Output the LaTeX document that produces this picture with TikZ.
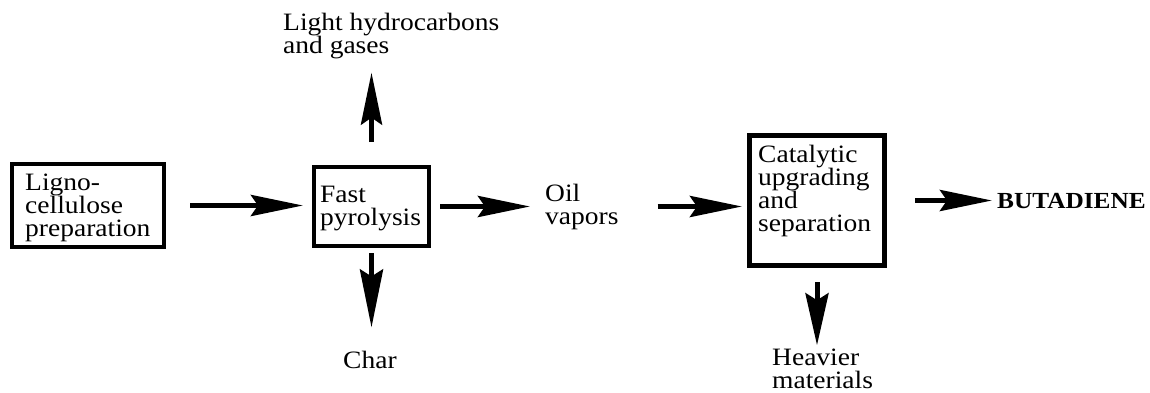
\documentclass[tikz,border=0pt]{standalone}
\usepackage{fontspec}
\setmainfont{Liberation Serif}[FakeStretch=1.1]
\usetikzlibrary{arrows.meta}
\tikzset{
  box/.style={draw, line width=4pt, inner sep=0pt},
  lbl/.style={inner sep=0pt, align=left, font=\fontsize{25}{23}\selectfont},
  flow/.style={line width=5pt, -{Stealth[length=52pt, width=21pt, inset=7pt]}},
}
\begin{document}
\begin{tikzpicture}[x=1pt, y=-1pt]
\useasboundingbox[fill=white] (0,0) rectangle (1150,393);
% boxes (text nodes are anchored at the baseline of their last line)
\node[box, minimum width=152pt, minimum height=83pt] (b1) at (88,205.5) {};
\node[lbl, anchor=base west] (b1t) at (25,236) {Ligno-\\cellulose\\preparation};
\node[box, minimum width=115pt, minimum height=79pt] (b2) at (371.5,206.5) {};
\node[lbl, anchor=base west] (b2t) at (320,225) {Fast\\pyrolysis};
\node[box, line width=5pt, minimum width=135pt, minimum height=130pt] (b3) at (817,200.5) {};
\node[lbl, anchor=base west] (b3t) at (758,231) {Catalytic\\upgrading\\and\\separation};
% labels
\node[lbl, anchor=base west] (lh) at (283,54) {Light hydrocarbons\\and gases};
\node[lbl, anchor=base west] (ch) at (343,368) {Char};
\node[lbl, anchor=base west] (oil) at (545,224) {Oil\\vapors};
\node[lbl, anchor=base west] (hv) at (772,388) {Heavier\\materials};
\node[lbl, anchor=base west, font=\fontsize{23}{23}\selectfont\bfseries] (bd) at (997,208) {BUTADIENE};
% connectors
\draw[flow, shorten <=24pt, shorten >=9pt] (b1.east) -- (b1.east -| b2.west);
\draw[flow, shorten <=23pt, shorten >=13pt] (b2.north) -- (b2.north |- lh.south);
\draw[flow, -{Stealth[length=58pt, width=23pt, inset=7pt]}, shorten <=5pt, shorten >=23pt] (b2.south) -- (b2.south |- ch.north);
\draw[flow, shorten <=9pt, shorten >=15pt] (b2.east) -- (b2.east -| oil.west);
\draw[flow, shorten <=39pt, shorten >=5pt] (b2.east -| oil.east) -- (b2.east -| b3.west);
\draw[flow, shorten <=28pt, shorten >=5pt] (b3.east) -- (b3.east -| bd.west);
\draw[flow, -{Stealth[length=52pt, width=23pt, inset=7pt]}, shorten <=14pt, shorten >=3pt] (b3.south) -- (b3.south |- hv.north);
\end{tikzpicture}
\end{document}
